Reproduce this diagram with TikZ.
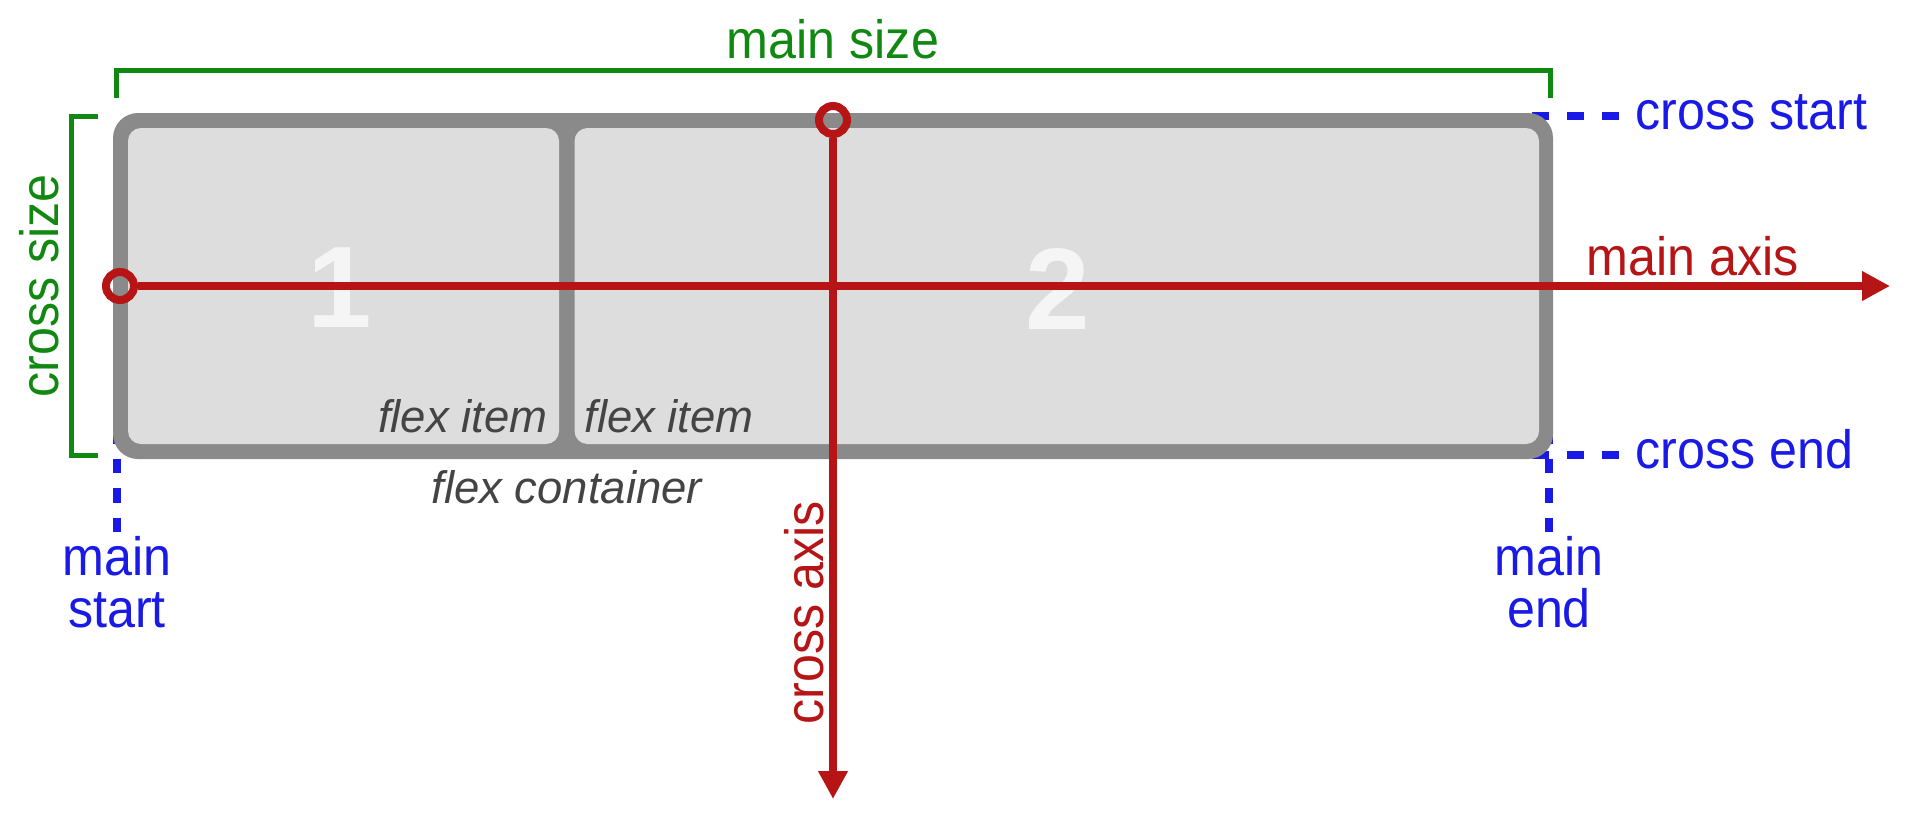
\documentclass[tikz,border=0pt]{standalone}
\usepackage{fontspec}
\setmainfont{Liberation Sans}
\newfontfamily\lblfont[FakeStretch=0.93]{Liberation Sans}
\usetikzlibrary{arrows.meta}
\definecolor{cgreen}{RGB}{17,136,17}
\definecolor{cred}{RGB}{183,21,21}
\definecolor{cblue}{RGB}{26,26,230}
\definecolor{cgray}{RGB}{138,138,138}
\definecolor{citem}{RGB}{221,221,221}
\definecolor{cdigit}{RGB}{245,245,245}
\definecolor{ctext}{RGB}{68,68,68}
\begin{document}
\begin{tikzpicture}[x=0.5pt,y=-0.5pt,
  lbl/.style={inner sep=0pt, font=\lblfont\fontsize{27}{26}\selectfont},
  flexlbl/.style={inner sep=0pt, text=ctext, font=\fontsize{22.75}{22.75}\selectfont\itshape},
  digit/.style={inner sep=0pt, text=cdigit, font=\fontsize{58}{58}\selectfont\bfseries},
  bracket/.style={draw=cgreen, line width=2.5pt, line join=miter},
  guideh/.style={draw=cblue, line width=4.25pt, dash pattern=on 8.75pt off 8.75pt},
  guidev/.style={draw=cblue, line width=4.25pt, dash pattern=on 7.25pt off 7.5pt},
  axisline/.style={draw=cred, line width=3.6pt, -{Triangle[length=14pt,width=14pt]}},
  ring/.style={circle, draw=cred, line width=4pt, minimum size=14pt, inner sep=0pt},
  box/.style={rectangle, inner sep=0pt},
]
\useasboundingbox (0,0) rectangle (1920,826);
\fill[white] (0,0) rectangle (1920,826);

% green brackets
\coordinate (ms1) at (116,98);
\coordinate (ms2) at (1550,98);
\coordinate (cs1) at (98,116);
\coordinate (cs2) at (98,455.5);
\draw[bracket] (ms1) -- (116,70) -- (1550,70) -- (ms2);
\draw[bracket] (cs1) -- (71,116) -- (71,455.5) -- (cs2);
\node[lbl, text=cgreen, anchor=base] (mainsize) at (833,58) {main size};
\node[lbl, text=cgreen, anchor=base, rotate=90] (crosssize) at (58,286) {cross size};

% blue guides (behind container)
\coordinate (gcs1) at (1531.5,116);
\coordinate (gcs2) at (1620,116);
\coordinate (gce1) at (1531.5,455);
\coordinate (gce2) at (1620,455);
\coordinate (gms1) at (117,429);
\coordinate (gms2) at (117,533);
\coordinate (gme1) at (1549,429);
\coordinate (gme2) at (1549,533);
\draw[guideh] (gcs1) -- (gcs2);
\draw[guideh] (gce1) -- (gce2);
\draw[guidev] (gms1) -- (gms2);
\draw[guidev] (gme1) -- (gme2);

% container and items
\node[box, fill=cgray, rounded corners=12.5pt, minimum width=720pt, minimum height=173pt] (container) at (833,286) {};
\node[box, fill=citem, rounded corners=6.5pt, minimum width=215.5pt, minimum height=158pt] (item1) at (343.5,286) {};
\node[box, fill=citem, rounded corners=6.5pt, minimum width=482.25pt, minimum height=158pt] (item2) at (1056.75,286) {};
\node[digit] (d1) at (340,288) {1};
\node[digit] (d2) at (1058,289) {2};
\node[flexlbl, anchor=base east] (fi1) at (548,432) {flex item};
\node[flexlbl, anchor=base west] (fi2) at (584,432) {flex item};
\node[flexlbl, anchor=base west] (fc) at (431,503) {flex container};

% axes
\node[ring] (r1) at (120,286) {};
\node[ring] (r2) at (833,120) {};
\coordinate (mtip) at (1890,286);
\coordinate (ctip) at (833,799);
\draw[axisline] (r1.east) -- (mtip);
\draw[axisline] (r2.south) -- (ctip);
\node[lbl, text=cred, anchor=base west] (mainaxis) at (1586,275) {main axis};
\node[lbl, text=cred, anchor=base, rotate=90] (crossaxis) at (823,613) {cross axis};

% blue labels
\node[lbl, text=cblue, anchor=base west] (crossstart) at (1635,129) {cross start};
\node[lbl, text=cblue, anchor=base west] (crossend) at (1635,468) {cross end};
\node[lbl, text=cblue, anchor=base, align=center] (mainstart) at (117,627) {main\\start};
\node[lbl, text=cblue, anchor=base, align=center] (mainend) at (1549,627) {main\\end};
\end{tikzpicture}
\end{document}
